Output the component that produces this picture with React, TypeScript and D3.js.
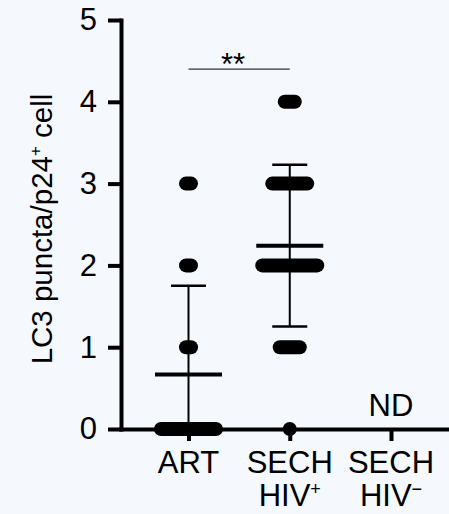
import { useEffect, useRef } from "react";
import * as d3 from "d3";

// groups on the x axis, label split into lines + superscript
const categories = ["ART", "SECH HIV+", "SECH HIV−"];
const labelTop = ["ART", "SECH", "SECH"];
const labelBottom = ["", "HIV", "HIV"];
const labelSup = ["", "+", "−"];

// LC3 puncta per p24+ cell, one entry per counted cell
const artValues = [3, 3, 2, 2, 1, 1, 0, 0, 0, 0, 0, 0, 0, 0, 0, 0, 0, 0];
const sechPosValues = [
  4, 4, 4,
  3, 3, 3, 3, 3, 3, 3, 3,
  2, 2, 2, 2, 2, 2, 2, 2, 2, 2, 2, 2,
  1, 1, 1, 1, 1,
  0,
];
const sechNegValues: number[] = [];
const groupValues = [artValues, sechPosValues, sechNegValues];
const notDetected = [false, false, true];

const yTicks = [0, 1, 2, 3, 4, 5];

// significance bracket
const sigFrom = "ART";
const sigTo = "SECH HIV+";
const sigLevel = 4.4;
const sigLabel = "**";

const W = 449;
const H = 514;
const FONT = "'Liberation Sans', Arial, Helvetica, sans-serif";
const BG = "#f5f8fd";

export default function App() {
  const yAxisRef = useRef<SVGGElement>(null);
  const xAxisRef = useRef<SVGGElement>(null);

  const axisLeft = 121;
  const y = d3.scaleLinear().domain([0, 5]).range([429, 20]);
  const x = d3.scalePoint<string>().domain(categories).range([188.5, 391]);

  const dotR = 7;
  const dotStep = 5; // horizontal spread for tied values

  useEffect(() => {
    document.body.style.margin = "0";
    document.body.style.background = BG;

    const gy = d3.select(yAxisRef.current);
    gy.call(
      d3.axisLeft(y).tickValues(yTicks).tickSize(13).tickSizeOuter(0).tickPadding(11).tickFormat(d3.format("d"))
    );
    gy.select(".domain").attr("stroke-width", 4).attr("stroke-linecap", "square");
    gy.selectAll(".tick line").attr("stroke-width", 4);
    gy.selectAll(".tick text").attr("font-size", 31).attr("font-family", FONT).attr("fill", "#000");
    gy.attr("font-family", null).attr("font-size", null);

    const gx = d3.select(xAxisRef.current);
    gx.call(d3.axisBottom(x).tickSize(12).tickSizeOuter(0).tickFormat(() => ""));
    gx.select(".domain").remove();
    gx.selectAll(".tick line").attr("stroke-width", 4);
    gx.append("line")
      .attr("x1", axisLeft - 2)
      .attr("x2", W + 2)
      .attr("y1", 0.5)
      .attr("y2", 0.5)
      .attr("stroke", "#000")
      .attr("stroke-width", 4);

    return () => {
      gy.selectAll("*").remove();
      gx.selectAll("*").remove();
    };
  }, []);

  // tied values sit side by side and merge into one rounded bar
  const rows = groupValues.flatMap((vals, gi) => {
    const cat = categories[gi];
    const byValue = d3.group(vals, (v) => v);
    return Array.from(byValue, ([v, arr]) => {
      const half = ((arr.length - 1) / 2) * dotStep;
      return { key: `${gi}-${v}`, x1: (x(cat) ?? 0) - half, x2: (x(cat) ?? 0) + half, cy: y(v) };
    });
  });

  const stats = groupValues
    .map((vals, gi) => ({ cat: categories[gi], vals }))
    .filter((d) => d.vals.length > 1)
    .map((d) => {
      const m = d3.mean(d.vals) ?? 0;
      const sd = d3.deviation(d.vals) ?? 0;
      return { cat: d.cat, mean: m, hi: m + sd, lo: Math.max(m - sd, 0), loCap: m - sd >= 0 };
    });

  const sigX1 = x(sigFrom) ?? 0;
  const sigX2 = x(sigTo) ?? 0;

  return (
    <svg width={W} height={H} style={{ display: "block", background: BG }} fontFamily={FONT}>
      <rect width={W} height={H} fill={BG} />

      {/* y title */}
      <text transform={`translate(52, 229) rotate(-90)`} textAnchor="middle" fontSize={29.5} fill="#000">
        LC3 puncta/p24<tspan fontSize={17} dy={-11}>+</tspan>
        <tspan dy={11}> cell</tspan>
      </text>

      {/* dots */}
      <g stroke="#000" strokeWidth={dotR * 2} strokeLinecap="round">
        {rows.map((r) => (
          <line key={r.key} x1={r.x1} x2={r.x2 + 0.01} y1={r.cy} y2={r.cy} />
        ))}
      </g>

      {/* mean ± SD */}
      <g stroke="#000">
        {stats.map((s) => {
          const cx = x(s.cat) ?? 0;
          return (
            <g key={s.cat}>
              <line x1={cx} x2={cx} y1={y(s.hi)} y2={y(s.lo)} strokeWidth={2} />
              <line x1={cx - 17.5} x2={cx + 17.5} y1={y(s.hi)} y2={y(s.hi)} strokeWidth={2.5} />
              {s.loCap && <line x1={cx - 17.5} x2={cx + 17.5} y1={y(s.lo)} y2={y(s.lo)} strokeWidth={2.5} />}
              <line x1={cx - 33.5} x2={cx + 33.5} y1={y(s.mean)} y2={y(s.mean)} strokeWidth={4} />
            </g>
          );
        })}
      </g>

      {/* axes */}
      <g ref={yAxisRef} transform={`translate(${axisLeft}, 0)`} />
      <g ref={xAxisRef} transform={`translate(0, ${y(0)})`} />

      {/* ND */}
      {categories.map((c, i) =>
        notDetected[i] ? (
          <text key={c} x={x(c)} y={y(0) - 13} textAnchor="middle" fontSize={31} fill="#000">
            ND
          </text>
        ) : null
      )}

      {/* x labels */}
      {categories.map((c, i) => (
        <g key={c} fill="#000" fontSize={31} textAnchor="middle">
          <text x={x(c)} y={y(0) + 44}>{labelTop[i]}</text>
          {labelBottom[i] && (
            <text x={x(c)} y={y(0) + 77}>
              {labelBottom[i]}
              <tspan fontSize={18} dy={-11}>{labelSup[i]}</tspan>
            </text>
          )}
        </g>
      ))}

      {/* significance */}
      <line x1={sigX1} x2={sigX2} y1={y(sigLevel)} y2={y(sigLevel)} stroke="#333" strokeWidth={1.3} />
      <text x={(sigX1 + sigX2) / 2} dx={-6} y={y(sigLevel) + 6} textAnchor="middle" fontSize={31} fill="#000">
        {sigLabel}
      </text>
    </svg>
  );
}
